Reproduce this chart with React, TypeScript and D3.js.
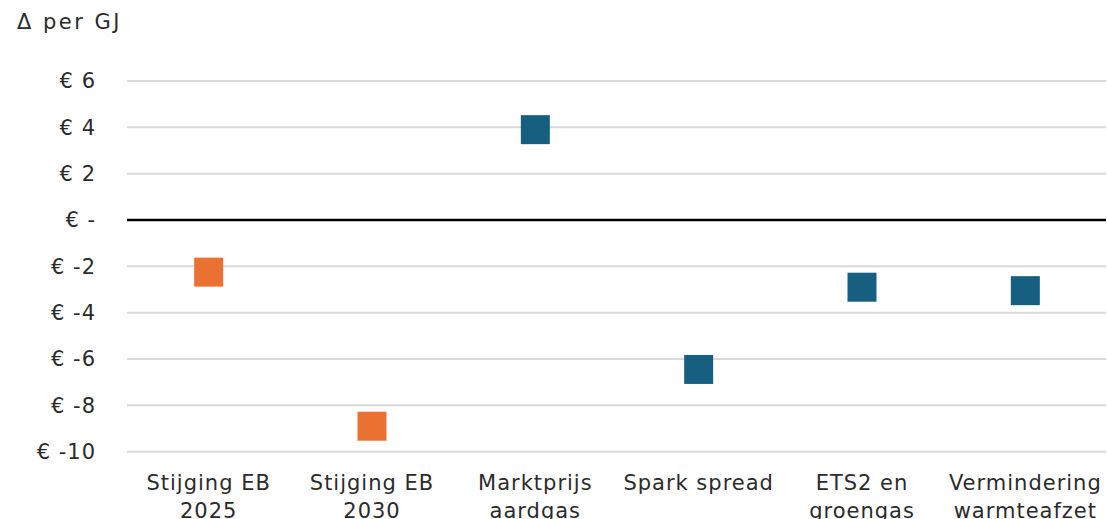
import React from "react";
import * as d3 from "d3";

// Delta per GJ for each component
const categories: string[][] = [
  ["Stijging EB", "2025"],
  ["Stijging EB", "2030"],
  ["Marktprijs", "aardgas"],
  ["Spark spread"],
  ["ETS2 en", "groengas"],
  ["Vermindering", "warmteafzet"],
];
const values: number[] = [-2.25, -8.9, 3.9, -6.45, -2.9, -3.05];
const colors: string[] = ["#EB7133", "#EB7133", "#175F81", "#175F81", "#175F81", "#175F81"];
const yTicks: number[] = [6, 4, 2, 0, -2, -4, -6, -8, -10];

const W = 1107;
const H = 519;
const FONT = "'DejaVu Sans', sans-serif";
const TEXT = "#2b2b2b";

const fmt = (v: number) => (v === 0 ? "€ -" : `€ ${v}`);

export default function App() {
  const x = d3
    .scaleBand<number>()
    .domain(d3.range(categories.length))
    .range([127, 1107])
    .padding(0);
  const y = d3.scaleLinear().domain([-10, 6]).range([451.7, 81]);
  const size = 29;

  return (
    <svg
      width={W}
      height={H}
      style={{ position: "absolute", left: 0, top: 0, background: "#fff" }}
    >
      <text
        x={17}
        y={29}
        fontFamily={FONT}
        fontSize={21}
        letterSpacing={2.5}
        fill={TEXT}
      >
        Δ per GJ
      </text>
      {yTicks.map((t) => (
        <g key={t}>
          <line
            x1={127}
            x2={1106}
            y1={y(t)}
            y2={y(t)}
            stroke={t === 0 ? "#000" : "#D9D9D9"}
            strokeWidth={t === 0 ? 2.5 : 2}
          />
          <text
            x={96}
            y={y(t)}
            dy="0.35em"
            textAnchor="end"
            fontFamily={FONT}
            fontSize={21}
            letterSpacing={1}
            fill={TEXT}
          >
            {fmt(t)}
          </text>
        </g>
      ))}
      {values.map((v, i) => (
        <rect
          key={i}
          x={x(i)! + x.bandwidth() / 2 - size / 2}
          y={y(v) - size / 2}
          width={size}
          height={size}
          fill={colors[i]}
        />
      ))}
      {categories.map((lines, i) => (
        <text
          key={i}
          x={x(i)! + x.bandwidth() / 2}
          y={490}
          textAnchor="middle"
          fontFamily={FONT}
          fontSize={21}
          letterSpacing={1}
          fill={TEXT}
        >
          {lines.map((l, j) => (
            <tspan key={j} x={x(i)! + x.bandwidth() / 2} dy={j === 0 ? 0 : 28}>
              {l}
            </tspan>
          ))}
        </text>
      ))}
    </svg>
  );
}
